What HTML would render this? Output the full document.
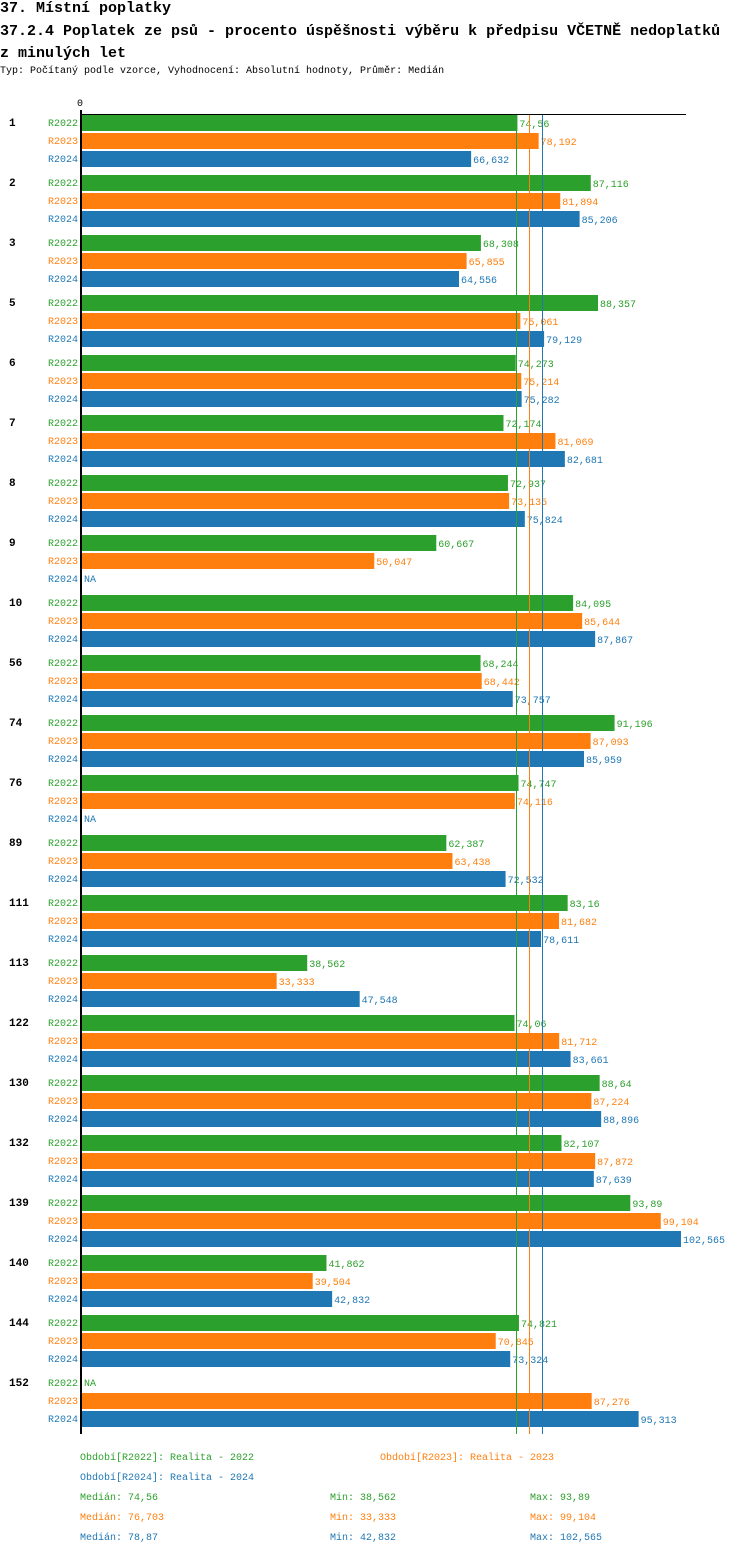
<!DOCTYPE html>
<html><head><meta charset="utf-8"><style>
body{margin:0;background:#fff;width:750px;height:1554px;overflow:hidden;font-family:"Liberation Mono","DejaVu Sans Mono",monospace;}
.t{position:absolute;white-space:nowrap;}
</style></head><body>
<div class="t" style="left:0;top:0;font-size:15px;font-weight:bold;line-height:18px">37. Místní poplatky</div>
<div class="t" style="left:0;top:21px;font-size:15px;font-weight:bold;line-height:22px">37.2.4 Poplatek ze psů - procento úspěšnosti výběru k předpisu VČETNĚ nedoplatků<br>z minulých let</div>
<div class="t" style="left:0;top:66px;font-size:10px">Typ: Počítaný podle vzorce, Vyhodnocení: Absolutní hodnoty, Průměr: Medián</div>
<svg id="c" width="750" height="1554" style="position:absolute;left:0;top:0"></svg>
<script>
const categories=["1","2","3","5","6","7","8","9","10","56","74","76","89","111","113","122","130","132","139","140","144","152"];
const r2022=[74.56,87.116,68.308,88.357,74.273,72.174,72.937,60.667,84.095,68.244,91.196,74.747,62.387,83.16,38.562,74.06,88.64,82.107,93.89,41.862,74.821,null];
const r2023=[78.192,81.894,65.855,75.061,75.214,81.069,73.135,50.047,85.644,68.442,87.093,74.116,63.438,81.682,33.333,81.712,87.224,87.872,99.104,39.504,70.845,87.276];
const r2024=[66.632,85.206,64.556,79.129,75.282,82.681,75.824,null,87.867,73.757,85.959,null,72.532,78.611,47.548,83.661,88.896,87.639,102.565,42.832,73.324,95.313];
const seriesNames=["R2022","R2023","R2024"];
const medians=[74.56,76.703,78.87];
const mins=[38.562,33.333,42.832];
const maxs=[93.89,99.104,102.565];
const colors=["#2ca02c","#ff7f0e","#1f77b4"];
const svg=document.getElementById('c');const NS="http://www.w3.org/2000/svg";
const x0=82,k=5.84,top0=114,gH=60,rH=18;
const X=v=>x0+v*k;
const fmt=v=>String(v).replace('.',',');
function el(t,a,txt){const e=document.createElementNS(NS,t);for(const n in a)e.setAttribute(n,a[n]);if(txt!==undefined)e.textContent=txt;svg.appendChild(e);return e;}
const fs={"font-family":"Liberation Mono, DejaVu Sans Mono, monospace","font-size":"10"};
let t=el('text',Object.assign({x:80,y:106,"text-anchor":"middle"},fs),"0");


const all=[r2022,r2023,r2024];
categories.forEach((c,i)=>{
  const gy=top0+i*gH;
  let g=el('text',Object.assign({x:9,y:gy+12,"font-weight":"bold","font-size":"11","font-family":"Liberation Mono, monospace"}),c);
  
  
  all.forEach((s,j)=>{
    const y=gy+1+j*rH,v=s[i];
    let l=el('text',Object.assign({x:78,y:y+11,"text-anchor":"end",fill:colors[j]},fs),seriesNames[j]);
    
    
    if(v===null){
      let n=el('text',Object.assign({x:84,y:y+11,fill:colors[j]},fs),"NA");
      
      
    }else{
      let b=el('rect',{x:x0,y:y,width:v*k,height:16,fill:colors[j]});
      
      
      let vl=el('text',Object.assign({x:X(v)+2,y:y+12,fill:colors[j]},fs),fmt(v));
      
      
    }
  });
});
const bottom=top0+categories.length*gH;
medians.forEach((m,j)=>{const xx=Math.round(X(m))-0.5;let l=el('line',{x1:xx,x2:xx,y1:top0,y2:bottom,stroke:colors[j],"stroke-width":1});

});
let ax=el('line',{x1:81,x2:81,y1:top0-4,y2:bottom,stroke:"#000","stroke-width":2});


let tl=el('line',{x1:81,x2:686,y1:top0+0.5,y2:top0+0.5,stroke:"#000","stroke-width":1});


const leg=[["Období[R2022]: Realita - 2022",80,1460,0],["Období[R2023]: Realita - 2023",380,1460,1],["Období[R2024]: Realita - 2024",80,1480,2]];
leg.forEach(a=>{let e=el('text',Object.assign({x:a[1],y:a[2],fill:colors[a[3]]},fs),a[0]);

});
[0,1,2].forEach(j=>{const y=1500+j*20;
let a=el('text',Object.assign({x:80,y:y,fill:colors[j]},fs),"Medián: "+fmt(medians[j]));


let b=el('text',Object.assign({x:330,y:y,fill:colors[j]},fs),"Min: "+fmt(mins[j]));


let d=el('text',Object.assign({x:530,y:y,fill:colors[j]},fs),"Max: "+fmt(maxs[j]));

});
</script>
</body></html>
